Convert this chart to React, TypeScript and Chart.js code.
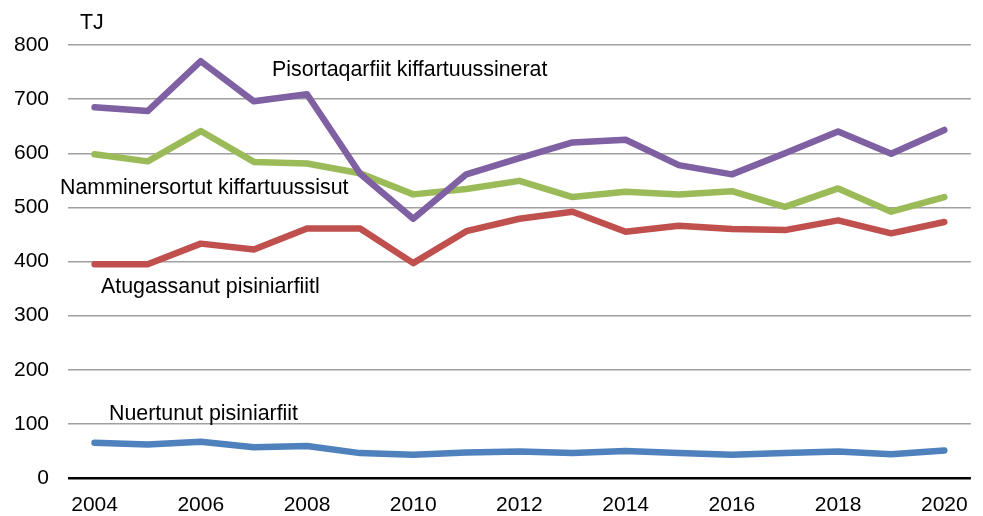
import React, { useEffect, useRef } from "react";
import { Chart, registerables } from "chart.js";

Chart.register(...registerables);

const years = ["2004","2005","2006","2007","2008","2009","2010","2011","2012","2013","2014","2015","2016","2017","2018","2019","2020"];
const pisortaqarfiit = [685, 678, 770, 696, 709, 562, 479, 561, 591, 620, 625, 578, 561, 600, 640, 599, 643];
const namminersortut = [598, 585, 641, 584, 581, 563, 524, 534, 549, 519, 529, 524, 530, 501, 535, 492, 519];
const atugassanut = [395, 395, 433, 422, 461, 461, 397, 456, 479, 492, 455, 466, 460, 458, 476, 452, 473];
const nuertunut = [65, 62, 67, 57, 59, 46, 43, 47, 49, 46, 50, 46, 43, 46, 49, 44, 51];

const unitLabel = "TJ";
const seriesLabels = [
  "Pisortaqarfiit kiffartuussinerat",
  "Namminersortut kiffartuussisut",
  "Atugassanut pisiniarfiitl",
  "Nuertunut pisiniarfiit",
];

const FONT = '"Liberation Sans", Arial, sans-serif';

const textPlugin = {
  id: "annotTexts",
  afterDraw(chart: any) {
    const ctx = chart.ctx;
    ctx.save();
    ctx.fillStyle = "#000";
    ctx.font = `21.4px ${FONT}`;
    ctx.textAlign = "left";
    ctx.textBaseline = "alphabetic";
    ctx.fillText(unitLabel, 80, 29);
    ctx.fillText(seriesLabels[0], 272, 76);
    ctx.fillText(seriesLabels[1], 60, 194);
    ctx.fillText(seriesLabels[2], 101, 293);
    ctx.fillText(seriesLabels[3], 109, 420);
    ctx.restore();
  },
};

export default function App() {
  const ref = useRef<HTMLCanvasElement | null>(null);
  useEffect(() => {
    if (!ref.current) return;
    const mk = (label: string, data: number[], color: string) => ({
      label,
      data,
      borderColor: color,
      backgroundColor: color,
      borderWidth: 6.5,
      pointRadius: 0,
      tension: 0,
      borderJoinStyle: "round" as const,
      borderCapStyle: "round" as const,
    });
    const chart = new Chart(ref.current, {
      type: "line",
      data: {
        labels: years,
        datasets: [
          mk(seriesLabels[0], pisortaqarfiit, "#7F60A2"),
          mk(seriesLabels[1], namminersortut, "#9BBB59"),
          mk(seriesLabels[2], atugassanut, "#C0504D"),
          mk(seriesLabels[3], nuertunut, "#4F81BD"),
        ],
      },
      options: {
        animation: false,
        responsive: false,
        maintainAspectRatio: false,
        layout: { padding: { top: 45, right: 11, left: 0, bottom: 0 } },
        plugins: { legend: { display: false }, tooltip: { enabled: false } },
        scales: {
          x: {
            offset: true,
            grid: { display: false, drawTicks: false },
            border: { display: false },
            ticks: {
              color: "#000",
              font: { family: FONT, size: 21 },
              padding: 15,
              maxRotation: 0,
              autoSkip: false,
              callback: (_v: any, i: number) => (i % 2 === 0 ? years[i] : ""),
            },
            afterFit: (s: any) => { s.height = 38; },
          },
          y: {
            min: 0,
            max: 800,
            ticks: {
              stepSize: 100,
              color: "#000",
              font: { family: FONT, size: 21 },
              padding: 19,
            },
            grid: {
              drawTicks: false,
              color: (c: any) => (c.tick && c.tick.value === 0 ? "#000" : "#A0A0A0"),
              lineWidth: (c: any) => (c.tick && c.tick.value === 0 ? 2.5 : 1.5),
            },
            border: { display: false },
            afterFit: (s: any) => { s.width = 68; },
          },
        },
      },
      plugins: [textPlugin],
    });
    return () => chart.destroy();
  }, []);
  return (
    <div style={{ position: "absolute", left: 0, top: 0, width: 983, height: 516, background: "#fff" }}>
      <canvas ref={ref} width={983} height={516} style={{ width: 983, height: 516 }} />
    </div>
  );
}
